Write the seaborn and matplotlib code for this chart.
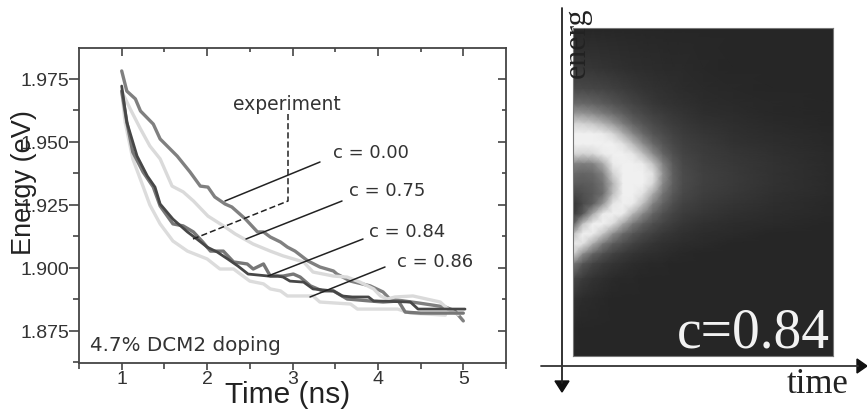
import numpy as np
import pandas as pd
import matplotlib
matplotlib.use('Agg')
import matplotlib.pyplot as plt
from matplotlib.lines import Line2D
import seaborn as sns

# Curves: time (ns), energy (eV)
time_a = [1.00, 1.06, 1.16, 1.22, 1.37, 1.45, 1.65, 1.80, 1.92, 2.01, 2.09, 2.21, 2.29, 2.45, 2.59, 2.66, 2.74, 2.86, 2.94, 3.03, 3.18, 3.32, 3.48, 3.52, 3.68, 3.91, 4.06, 4.14, 4.50, 4.79, 4.90, 5.00]
energy_a = [1.9782, 1.9702, 1.9671, 1.9623, 1.9571, 1.9512, 1.9444, 1.9381, 1.9325, 1.9321, 1.9282, 1.9254, 1.9242, 1.9194, 1.9143, 1.9143, 1.9123, 1.9103, 1.9083, 1.9067, 1.9028, 1.9004, 1.8988, 1.8976, 1.8948, 1.8929, 1.8905, 1.8877, 1.8860, 1.8845, 1.8830, 1.8790]

time_b = [1.00, 1.10, 1.22, 1.33, 1.45, 1.59, 1.72, 1.84, 2.01, 2.21, 2.33, 2.54, 2.74, 2.89, 3.13, 3.24, 3.48, 3.64, 3.79, 3.95, 4.03, 4.11, 4.20, 4.41, 4.73, 4.82, 4.94]
energy_b = [1.9702, 1.9631, 1.9552, 1.9484, 1.9433, 1.9325, 1.9302, 1.9266, 1.9206, 1.9163, 1.9135, 1.9095, 1.9067, 1.9048, 1.9024, 1.8984, 1.8968, 1.8964, 1.8944, 1.8917, 1.8889, 1.8877, 1.8885, 1.8889, 1.8865, 1.8837, 1.8815]

time_c = [1.00, 1.06, 1.18, 1.30, 1.39, 1.45, 1.60, 1.77, 1.88, 2.00, 2.12, 2.24, 2.36, 2.48, 2.72, 2.83, 2.89, 2.97, 3.13, 3.24, 3.48, 3.58, 3.70, 3.89, 3.95, 3.99, 4.38, 4.47, 5.02]
energy_c = [1.9722, 1.9579, 1.9444, 1.9365, 1.9321, 1.9254, 1.9194, 1.9143, 1.9115, 1.9083, 1.9063, 1.9036, 1.9008, 1.8976, 1.8968, 1.8968, 1.8964, 1.8948, 1.8944, 1.8917, 1.8909, 1.8889, 1.8885, 1.8885, 1.8869, 1.8869, 1.8865, 1.8837, 1.8837]

time_d = [1.00, 1.06, 1.13, 1.25, 1.37, 1.45, 1.60, 1.72, 1.84, 1.95, 2.04, 2.19, 2.31, 2.47, 2.54, 2.66, 2.74, 2.89, 3.01, 3.09, 3.21, 3.35, 3.48, 3.64, 3.91, 4.06, 4.24, 4.32, 4.50, 5.00]
energy_d = [1.9702, 1.9579, 1.9460, 1.9381, 1.9321, 1.9246, 1.9175, 1.9167, 1.9143, 1.9103, 1.9067, 1.9067, 1.9024, 1.9016, 1.8996, 1.9016, 1.8968, 1.8968, 1.8976, 1.8964, 1.8929, 1.8909, 1.8909, 1.8877, 1.8869, 1.8865, 1.8869, 1.8825, 1.8821, 1.8821]

time_e = [1.00, 1.04, 1.13, 1.24, 1.33, 1.45, 1.60, 1.77, 2.00, 2.15, 2.31, 2.50, 2.66, 2.74, 2.86, 2.94, 3.24, 3.32, 3.68, 3.76, 4.23, 4.38, 4.79]
energy_e = [1.9702, 1.9579, 1.9433, 1.9333, 1.9250, 1.9175, 1.9107, 1.9067, 1.9036, 1.8996, 1.8996, 1.8948, 1.8937, 1.8917, 1.8909, 1.8889, 1.8889, 1.8865, 1.8857, 1.8837, 1.8837, 1.8821, 1.8813]

x_ticks = [1, 2, 3, 4, 5]
y_ticks = [1.875, 1.900, 1.925, 1.950, 1.975]
y_labels = ['1.875', '1.900', '1.925', '1.950', '1.975']

# Grey levels of the map at these picture columns and rows
map_cols = [573, 583, 593, 603, 613, 623, 633, 643, 653, 663, 673, 683, 703, 733, 773, 833]
map_rows = [29, 70, 90, 105, 115, 125, 135, 145, 155, 165, 175, 185, 195, 205, 215, 225, 235, 245, 255, 265, 280, 300, 330, 357]
map_grey = [
    [38, 38, 38, 38, 38, 38, 38, 38, 38, 38, 38, 38, 38, 38, 38, 38],
    [55, 55, 54, 52, 50, 48, 46, 45, 44, 43, 42, 42, 40, 38, 38, 38],
    [72, 72, 70, 68, 64, 60, 56, 52, 50, 48, 46, 44, 42, 40, 38, 38],
    [105, 105, 100, 92, 84, 76, 68, 62, 56, 52, 50, 48, 44, 42, 40, 38],
    [155, 150, 140, 125, 110, 95, 80, 72, 64, 60, 55, 52, 46, 44, 40, 38],
    [215, 210, 200, 180, 155, 125, 100, 85, 74, 66, 60, 56, 50, 46, 42, 38],
    [240, 240, 240, 235, 215, 175, 135, 105, 85, 75, 66, 60, 54, 48, 44, 40],
    [240, 240, 240, 240, 240, 225, 185, 140, 105, 85, 72, 64, 58, 50, 46, 40],
    [215, 210, 215, 235, 240, 240, 230, 190, 140, 100, 80, 68, 60, 54, 48, 42],
    [130, 125, 130, 170, 235, 240, 240, 235, 195, 130, 90, 72, 62, 56, 50, 42],
    [105, 100, 105, 130, 210, 240, 240, 240, 225, 145, 95, 75, 64, 58, 50, 42],
    [90, 90, 95, 115, 180, 240, 240, 240, 215, 135, 95, 75, 64, 58, 50, 42],
    [70, 80, 90, 110, 190, 240, 240, 225, 170, 115, 88, 72, 62, 56, 48, 42],
    [50, 75, 95, 150, 230, 240, 235, 190, 130, 98, 78, 66, 58, 52, 46, 40],
    [55, 90, 170, 235, 240, 235, 180, 135, 100, 80, 68, 60, 54, 48, 44, 40],
    [90, 195, 240, 240, 220, 165, 120, 95, 78, 68, 60, 54, 48, 44, 42, 38],
    [190, 240, 235, 195, 140, 105, 85, 72, 64, 56, 52, 48, 44, 42, 38, 38],
    [235, 225, 170, 120, 92, 78, 66, 58, 52, 48, 46, 44, 42, 38, 38, 38],
    [215, 140, 100, 80, 66, 58, 52, 48, 46, 44, 42, 40, 38, 38, 38, 38],
    [120, 85, 68, 58, 52, 48, 44, 42, 40, 40, 38, 38, 38, 38, 38, 38],
    [70, 58, 50, 46, 42, 40, 40, 38, 38, 38, 38, 38, 38, 38, 38, 38],
    [50, 44, 42, 40, 38, 38, 38, 38, 38, 38, 38, 38, 38, 38, 38, 38],
    [40, 38, 38, 38, 38, 38, 38, 38, 38, 38, 38, 38, 38, 38, 38, 38],
    [38, 38, 38, 38, 38, 38, 38, 38, 38, 38, 38, 38, 38, 38, 38, 38],
]

W, H = 867, 410

sns.set_style('ticks')
plt.rcParams['font.family'] = ['Liberation Sans', 'DejaVu Sans']

fig = plt.figure(figsize=(W / 100, H / 100), dpi=100)


def fx(px):
    return px / W


def fy(py):
    return 1 - py / H


def fig_line(xs, ys, **kw):
    fig.add_artist(Line2D([fx(v) for v in xs], [fy(v) for v in ys], **kw))


# Left panel
ax = fig.add_axes([fx(79), fy(364), fx(506 - 79), (364 - 49) / H])

curves = [
    (time_a, energy_a, '#808080', 2.4),
    (time_b, energy_b, '#dadada', 2.4),
    (time_e, energy_e, '#dcdcdc', 2.4),
    (time_d, energy_d, '#777777', 2.4),
    (time_c, energy_c, '#474747', 2.0),
]
for t, e, col, lw in curves:
    df = pd.DataFrame({'time': t, 'energy': e})
    sns.lineplot(data=df, x='time', y='energy', color=col, linewidth=lw, sort=False,
                 errorbar=None, ax=ax)

ax.set_xlim(0.5, 5.5)
ax.set_ylim(1.8623, 1.9873)
ax.set_xticks(x_ticks)
ax.set_yticks(y_ticks)
ax.set_yticklabels(y_labels)
ax.set_xticks([0.5, 1.5, 2.5, 3.5, 4.5, 5.5], minor=True)
ax.set_yticks([1.8625, 1.8875, 1.9125, 1.9375, 1.9625], minor=True)
ax.tick_params(axis='both', which='major', direction='out', length=7, width=1.2,
               color='#444444', labelsize=14, labelcolor='#333333', pad=0)
ax.tick_params(axis='both', which='minor', direction='out', length=4, width=1.2, color='#444444')
ax.tick_params(axis='x', which='major', length=5, pad=0)
ax.set_xlabel('')
ax.set_ylabel('')
for s in ax.spines.values():
    s.set_linewidth(1.3)
    s.set_color('#444444')

# mirrored ticks on the top and right edge point inwards
top = ax.secondary_xaxis('top')
top.set_xticks(x_ticks)
top.set_xticks([1.5, 2.5, 3.5, 4.5], minor=True)
top.tick_params(which='major', direction='in', length=6, width=1.2, color='#444444', labeltop=False)
top.tick_params(which='minor', direction='in', length=3, width=1.2, color='#444444')
right = ax.secondary_yaxis('right')
right.set_yticks(y_ticks)
right.set_yticks([1.8875, 1.9125, 1.9375, 1.9625], minor=True)
right.tick_params(which='major', direction='in', length=6, width=1.2, color='#444444', labelright=False)
right.tick_params(which='minor', direction='in', length=3, width=1.2, color='#444444')
for s in top.spines.values():
    s.set_visible(False)
for s in right.spines.values():
    s.set_visible(False)

fig.text(fx(288), fy(395), 'Time (ns)', fontsize=21.5, ha='center', va='center', color='#222222')
fig.text(fx(24), fy(183), 'Energy (eV)', fontsize=19.5, rotation=90, ha='center', va='center', color='#222222')

# Leader lines and labels
leaders = [
    ([225, 320], [202, 163], 'c = 0.00', 333, 153),
    ([246, 342], [240, 202], 'c = 0.75', 349, 191),
    ([268, 363], [277, 240], 'c = 0.84', 369, 232),
    ([310, 385], [298, 268], 'c = 0.86', 397, 262),
]
for xs, ys, label, tx, ty in leaders:
    fig_line(xs, ys, color='#222222', lw=1.1)
    fig.text(fx(tx), fy(ty), label, fontsize=13, family='DejaVu Sans', va='center', color='#333333')

fig_line([288, 288, 193], [115, 202, 240], color='#222222', lw=1.1, ls=(0, (4, 2)))
fig.text(fx(233), fy(104), 'experiment', fontsize=13.5, family='DejaVu Sans', va='center', color='#333333')
fig.text(fx(90), fy(346), '4.7% DCM2 doping', fontsize=14.3, family='DejaVu Sans', va='center', color='#333333')

# Right panel
ax2 = fig.add_axes([fx(573), fy(357), fx(833 - 573), (357 - 29) / H])
ax2.pcolormesh(map_cols, map_rows, np.array(map_grey), cmap='gray', vmin=0, vmax=255, shading='gouraud')
ax2.set_xlim(573, 833)
ax2.set_ylim(357, 29)
ax2.set_xticks([])
ax2.set_yticks([])
for s in ax2.spines.values():
    s.set_linewidth(0.8)
    s.set_color('#777777')

fig_line([562, 562], [9, 384], color='#222222', lw=1.3)
fig_line([541, 858], [367, 367], color='#333333', lw=1.3)
fig.add_artist(plt.Polygon([[fx(555), fy(382)], [fx(569), fy(382)], [fx(562), fy(393)]], color='#111111', transform=fig.transFigure))
fig.add_artist(plt.Polygon([[fx(857), fy(360)], [fx(857), fy(374)], [fx(867), fy(367)]], color='#111111', transform=fig.transFigure))

fig.text(fx(818), fy(385), 'time', fontsize=25, family='Liberation Serif', ha='center', va='center', color='#222222')
fig.text(fx(753), fy(333), 'c=0.84', fontsize=40, family='Liberation Serif', ha='center', va='center', color='#f2f2f2')
fig.text(fx(577), fy(78), 'energ', fontsize=23, family='Liberation Serif', rotation=90, ha='center', va='bottom', color='#222222')

fig.savefig('out.png', dpi=100)
